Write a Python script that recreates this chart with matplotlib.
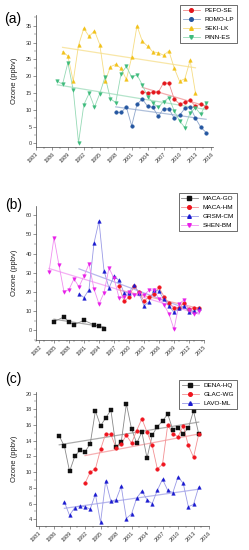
import numpy as np
import matplotlib
matplotlib.use("Agg")
import matplotlib.pyplot as plt
from matplotlib.ticker import MultipleLocator

plt.rcParams['font.family'] = ['Liberation Sans', 'DejaVu Sans']

# ---- panel (a) ----
pefo_years = list(range(2003, 2016))
pefo = [15.2, 15.1, 15.2, 15.2, 18.0, 17.9, 13.2, 11.7, 12.2, 12.8, 11.0, 11.8, 10.8]
romo_years = list(range(1998, 2016))
romo = [9.2, 9.2, 10.8, 5.2, 11.6, 13.2, 11.0, 10.7, 8.0, 10.3, 10.3, 7.5, 8.3, 10.4, 10.8, 7.5, 4.8, 3.2]
seki_years = list(range(1988, 2014))
seki = [27.3, 26.0, 18.5, 29.2, 34.2, 31.8, 33.5, 29.4, 18.5, 22.8, 23.5, 22.3, 19.0,
        25.6, 35.0, 30.4, 28.9, 27.2, 27.0, 26.2, 27.5, 22.4, 18.5, 19.2, 24.7, 15.0]
pinn_years = list(range(1987, 2016))
pinn = [18.5, 17.6, 24.0, 15.9, 0.2, 11.5, 14.9, 10.8, 14.8, 19.8, 13.3, 12.1, 20.7, 22.9, 19.7,
        20.4, 17.4, 13.9, 12.0, 10.7, 12.4, 13.6, 9.7, 6.7, 4.7, 9.1, 10.6, 8.6, 11.9]

# ---- panel (b) ----
macago_years = [1985, 1987, 1988, 1989, 1991, 1993, 1994, 1995]
macago = [4.4, 6.9, 4.0, 2.8, 5.1, 2.7, 2.0, 0.7]
macahm_years = list(range(1998, 2015))
macahm = [23.0, 15.0, 17.2, 23.0, 19.8, 15.0, 17.4, 19.0, 22.3, 17.5, 14.0, 11.6, 11.6, 14.2, 11.0, 11.8, 11.6]
grsm_years = list(range(1990, 2015))
grsm = [19.0, 17.0, 21.2, 45.5, 57.0, 31.0, 22.0, 28.2, 26.0, 19.5, 19.5, 23.8, 19.2, 12.7,
        14.8, 21.2, 20.3, 16.0, 12.5, 9.2, 11.6, 12.5, 9.2, 9.9, 11.3]
shen_years = list(range(1984, 2015))
shen = [30.5, 48.3, 33.9, 20.0, 21.2, 26.8, 22.6, 28.3, 34.6, 21.5, 13.6, 19.5, 32.5, 27.0, 17.0,
        17.2, 19.8, 18.5, 19.2, 18.5, 20.7, 21.0, 16.2, 13.2, 8.4, 0.4, 13.6, 15.8, 10.5, 8.4, 9.8]

# ---- panel (c) ----
dena_years = list(range(1987, 2015))
dena = [14.6, 13.3, 10.1, 12.0, 12.8, 12.6, 13.6, 17.8, 15.9, 16.9, 17.9, 13.2, 13.8, 18.7,
        15.5, 13.7, 15.1, 11.8, 14.7, 15.8, 16.5, 17.4, 15.4, 15.6, 14.9, 15.6, 17.8, 14.9]
glac_years = list(range(1992, 2015))
glac = [8.6, 10.0, 10.4, 12.9, 14.9, 14.8, 13.1, 13.6, 14.7, 13.7, 15.3, 16.8, 15.1, 13.4,
        10.4, 11.0, 16.0, 14.9, 14.5, 15.9, 13.4, 11.9, 14.8]
lavo_years = list(range(1988, 2015))
lavo = [6.2, 4.5, 5.5, 5.7, 5.6, 5.3, 7.2, 3.6, 8.9, 6.3, 6.5, 8.2, 4.1, 4.7, 6.7, 7.6, 6.5,
        6.0, 7.7, 9.1, 7.7, 7.4, 9.4, 8.6, 5.6, 5.9, 8.1]

W, H = 249, 550
fig = plt.figure(figsize=(W / 100, H / 100), dpi=100)


def px_axes(x0, x1, ytop, ybot):
    return fig.add_axes([x0 / W, 1 - ybot / H, (x1 - x0) / W, (ybot - ytop) / H])


def series(ax, yrs, vals, label, color, light, marker):
    yrs = np.array(yrs, float)
    vals = np.array(vals, float)
    ax.plot(yrs, vals, color=light, lw=0.6, zorder=2)
    ax.plot(yrs, vals, ls='none', marker=marker, ms=2.6, mfc=color, mec=color, mew=0.3, zorder=4)
    k, b = np.polyfit(yrs, vals, 1)
    ax.plot([yrs[0], yrs[-1]], [k * yrs[0] + b, k * yrs[-1] + b], color=light, lw=0.9, alpha=0.7, zorder=1)
    # handle for legend
    h, = ax.plot([], [], color=light, lw=0.6, marker=marker, ms=2.6, mfc=color, mec=color, label=label)
    return h


def style(ax, xlim, ylim, xstart, ystep):
    ax.set_xlim(*xlim)
    ax.set_ylim(*ylim)
    ax.xaxis.set_major_locator(MultipleLocator(3))
    ax.xaxis.set_minor_locator(MultipleLocator(1.5))
    ax.set_xticks(np.arange(xstart, xstart + 34, 3))
    ax.yaxis.set_major_locator(MultipleLocator(ystep))
    ax.yaxis.set_minor_locator(MultipleLocator(ystep / 2))
    for s in ['top', 'right']:
        ax.spines[s].set_visible(False)
    for s in ['left', 'bottom']:
        ax.spines[s].set_linewidth(0.5)
        ax.spines[s].set_color('#444444')
    ax.tick_params(which='major', direction='out', length=2, width=0.4, color='#444444',
                   labelsize=4, pad=1, labelcolor='#333333')
    ax.tick_params(which='minor', direction='out', length=1.2, width=0.3, color='#444444')
    plt.setp(ax.get_xticklabels(), rotation=45, ha='right', rotation_mode='anchor')
    ax.set_ylabel('Ozone (ppbv)', fontsize=5.5, labelpad=2, color='#222222')


def legend(ax, handles, top):
    fig.legend(handles=handles, loc='upper right', bbox_to_anchor=(240 / W, 1 - top / H),
               fontsize=4.6, frameon=True, fancybox=False, edgecolor='#333333',
               handlelength=2.6, handletextpad=0.8, borderpad=0.4, labelspacing=0.55,
               framealpha=1).get_frame().set_linewidth(0.5)


# (a)
ax1 = px_axes(36, 213, 15, 147)
h = [series(ax1, pefo_years, pefo, 'PEFO-SE', '#e3161c', '#ee8a8c', 'o'),
     series(ax1, romo_years, romo, 'ROMO-LP', '#2456a0', '#8ea6cc', 'o'),
     series(ax1, seki_years, seki, 'SEKI-LK', '#f2c21a', '#f6dc82', '^'),
     series(ax1, pinn_years, pinn, 'PINN-ES', '#3dbb7c', '#95d9b5', 'v')]
style(ax1, (1983, 2016.3), (-1.1, 38.2), 1983, 5)
legend(ax1, h, 2)
fig.text(4 / W, 1 - 19 / H, '(a)', fontsize=10, va='center', ha='left')

# (b)
ax2 = px_axes(36, 204, 206, 340)
h = [series(ax2, macago_years, macago, 'MACA-GO', '#111111', '#888888', 's'),
     series(ax2, macahm_years, macahm, 'MACA-HM', '#f0141e', '#f38f92', 'o'),
     series(ax2, grsm_years, grsm, 'GRSM-CM', '#1a1ad0', '#9a9ae6', '^'),
     series(ax2, shen_years, shen, 'SHEN-BM', '#e81ee8', '#f08ef0', 'v')]
style(ax2, (1981.4, 2015), (-5.2, 64.9), 1982, 10)
legend(ax2, h, 190)
fig.text(5 / W, 1 - 205 / H, '(b)', fontsize=10, va='center', ha='left')

# (c)
ax3 = px_axes(36, 209, 392, 526)
h = [series(ax3, dena_years, dena, 'DENA-HQ', '#111111', '#888888', 's'),
     series(ax3, glac_years, glac, 'GLAC-WG', '#f0141e', '#f38f92', 'o'),
     series(ax3, lavo_years, lavo, 'LAVO-ML', '#1a1ad0', '#9a9ae6', '^')]
style(ax3, (1982.5, 2016), (3.15, 20.2), 1983, 2)
ax3.yaxis.set_minor_locator(MultipleLocator(1))
legend(ax3, h, 377)
fig.text(5 / W, 1 - 379 / H, '(c)', fontsize=10, va='center', ha='left')

for ax in (ax1, ax2, ax3):
    ax.yaxis.set_label_coords(-18 / ax.get_position().width / W, 0.5)

fig.savefig('out.png', dpi=100)
